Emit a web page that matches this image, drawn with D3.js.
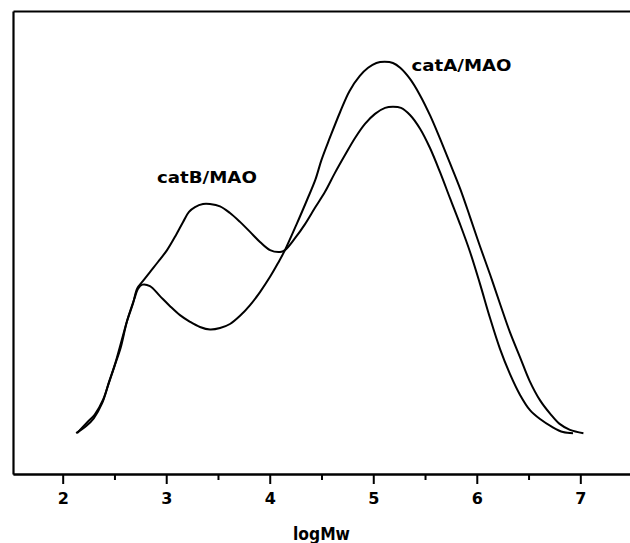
<!DOCTYPE html>
<html>
<head>
<meta charset="utf-8">
<script src="https://cdn.jsdelivr.net/npm/d3@7"></script>
<style>
    body { margin: 0; background: #fff; }
    text { font-family: "DejaVu Sans", sans-serif; font-weight: bold; fill: #000; }
</style>
</head>
<body>
<div id="chart"></div>
<script>
//Data (x = logMw, y = relative weight fraction)
var catA_x = [2.14, 2.24, 2.31, 2.39, 2.45, 2.51, 2.57, 2.63, 2.69, 2.73, 2.77, 2.843, 2.94, 3.037, 3.133, 3.23, 3.326, 3.423, 3.52, 3.616,
              3.713, 3.81, 3.906, 4.003, 4.08, 4.147, 4.26, 4.36, 4.44, 4.50, 4.58, 4.68, 4.77, 4.87, 4.95, 5.03, 5.11, 5.19, 5.26, 5.355, 5.45,
              5.55, 5.645, 5.74, 5.84, 5.935, 6.03, 6.13, 6.225, 6.32, 6.42, 6.51, 6.61, 6.71, 6.80, 6.90, 7.03];
var catA_y = [0.00, 0.03, 0.05, 0.09, 0.14, 0.19, 0.25, 0.31, 0.36, 0.39, 0.40, 0.396, 0.369, 0.342, 0.318, 0.30, 0.286, 0.279, 0.283, 0.294,
              0.316, 0.345, 0.38, 0.421, 0.458, 0.493, 0.563, 0.628, 0.682, 0.736, 0.795, 0.865, 0.921, 0.962, 0.984, 0.997, 1.00, 0.997, 0.984, 0.954, 0.911,
              0.855, 0.793, 0.728, 0.658, 0.582, 0.504, 0.426, 0.348, 0.272, 0.203, 0.141, 0.089, 0.052, 0.025, 0.009, 0.00];

var catB_x = [2.13, 2.23, 2.30, 2.38, 2.44, 2.50, 2.56, 2.62, 2.68, 2.72, 2.776, 2.843, 2.92, 3.008, 3.095, 3.163, 3.22, 3.278, 3.355, 3.423,
              3.52, 3.616, 3.713, 3.81, 3.906, 4.003, 4.10, 4.147, 4.244, 4.341, 4.437, 4.534, 4.63, 4.727, 4.824, 4.92, 5.017, 5.114, 5.19, 5.268,
              5.355, 5.452, 5.548, 5.645, 5.741, 5.838, 5.935, 6.031, 6.128, 6.224, 6.321, 6.418, 6.514, 6.611, 6.727, 6.833, 6.93];
var catB_y = [0.00, 0.02, 0.04, 0.08, 0.13, 0.18, 0.23, 0.30, 0.35, 0.39, 0.41, 0.434, 0.461, 0.493, 0.534, 0.569, 0.596, 0.609, 0.617, 0.617,
              0.611, 0.593, 0.569, 0.542, 0.515, 0.493, 0.488, 0.493, 0.525, 0.563, 0.607, 0.65, 0.701, 0.749, 0.795, 0.833, 0.86, 0.876, 0.879, 0.876,
              0.857, 0.82, 0.768, 0.703, 0.633, 0.563, 0.488, 0.402, 0.31, 0.227, 0.159, 0.103, 0.062, 0.038, 0.017, 0.003, 0.00];

var majorTicks = [2, 3, 4, 5, 6, 7];
var minorTicks = [2.5, 3.5, 4.5, 5.5, 6.5];
var seriesNames = ["catA/MAO", "catB/MAO"];
var axisTitle = "logMw";

//Setting width and height variables
var w = 630;
var h = 543;

//Scales (frame runs from x=13 to the right edge, y=11 to 474)
var xscale = d3.scaleLinear()
                .domain([1.52, 7.48])
                .range([13, 630]);

var yscale = d3.scaleLinear()
                .domain([-0.11, 1.137])
                .range([474, 11]);

var svg = d3.select("#chart")
            .append("svg")
            .attr("width", w)
            .attr("height", h);

//Bottom axis with big ticks and numbers
var xaxis = svg.append("g")
    .attr("transform", "translate(0," + yscale.range()[0] + ")")
    .call(d3.axisBottom(xscale).tickValues(majorTicks).tickSize(10).tickSizeOuter(0).tickPadding(9).tickFormat(d3.format("d")));
xaxis.selectAll("text").style("font-size", "16px");

//Minor ticks, no labels
svg.append("g")
    .attr("transform", "translate(0," + yscale.range()[0] + ")")
    .call(d3.axisBottom(xscale).tickValues(minorTicks).tickSize(6).tickSizeOuter(0).tickFormat(""));

//Left and top frame lines
svg.append("g")
    .attr("transform", "translate(" + xscale.range()[0] + ",0)")
    .call(d3.axisLeft(yscale).tickValues([]).tickSizeOuter(0));

svg.append("g")
    .attr("transform", "translate(0," + yscale.range()[1] + ")")
    .call(d3.axisTop(xscale).tickValues([]).tickSizeOuter(0));

svg.selectAll(".domain").attr("stroke", "#000").attr("stroke-width", 2.2);
svg.selectAll(".tick line").attr("stroke", "#000").attr("stroke-width", 2);

//Draws the two curves
var line = d3.line()
    .x(d => xscale(d[0]))
    .y(d => yscale(d[1]))
    .curve(d3.curveCatmullRom.alpha(0.5));

var curves = [d3.zip(catA_x, catA_y), d3.zip(catB_x, catB_y)];

svg.selectAll("path.curve")
    .data(curves)
    .enter()
    .append("path")
    .attr("class", "curve")
    .attr("d", line)
    .attr("fill", "none")
    .attr("stroke", "#000")
    .attr("stroke-width", 2);

//Curve labels
svg.append("text")
    .attr("x", xscale(5.37))
    .attr("y", yscale(0.975))
    .attr("textLength", 100)
    .attr("lengthAdjust", "spacingAndGlyphs")
    .style("font-size", "15px")
    .text(seriesNames[0]);

svg.append("text")
    .attr("x", xscale(2.91))
    .attr("y", yscale(0.674))
    .attr("textLength", 100)
    .attr("lengthAdjust", "spacingAndGlyphs")
    .style("font-size", "15px")
    .text(seriesNames[1]);

//Axis title
svg.append("text")
    .attr("x", 293)
    .attr("y", 540)
    .attr("textLength", 57)
    .attr("lengthAdjust", "spacingAndGlyphs")
    .style("font-size", "17px")
    .text(axisTitle);
</script>
</body>
</html>
